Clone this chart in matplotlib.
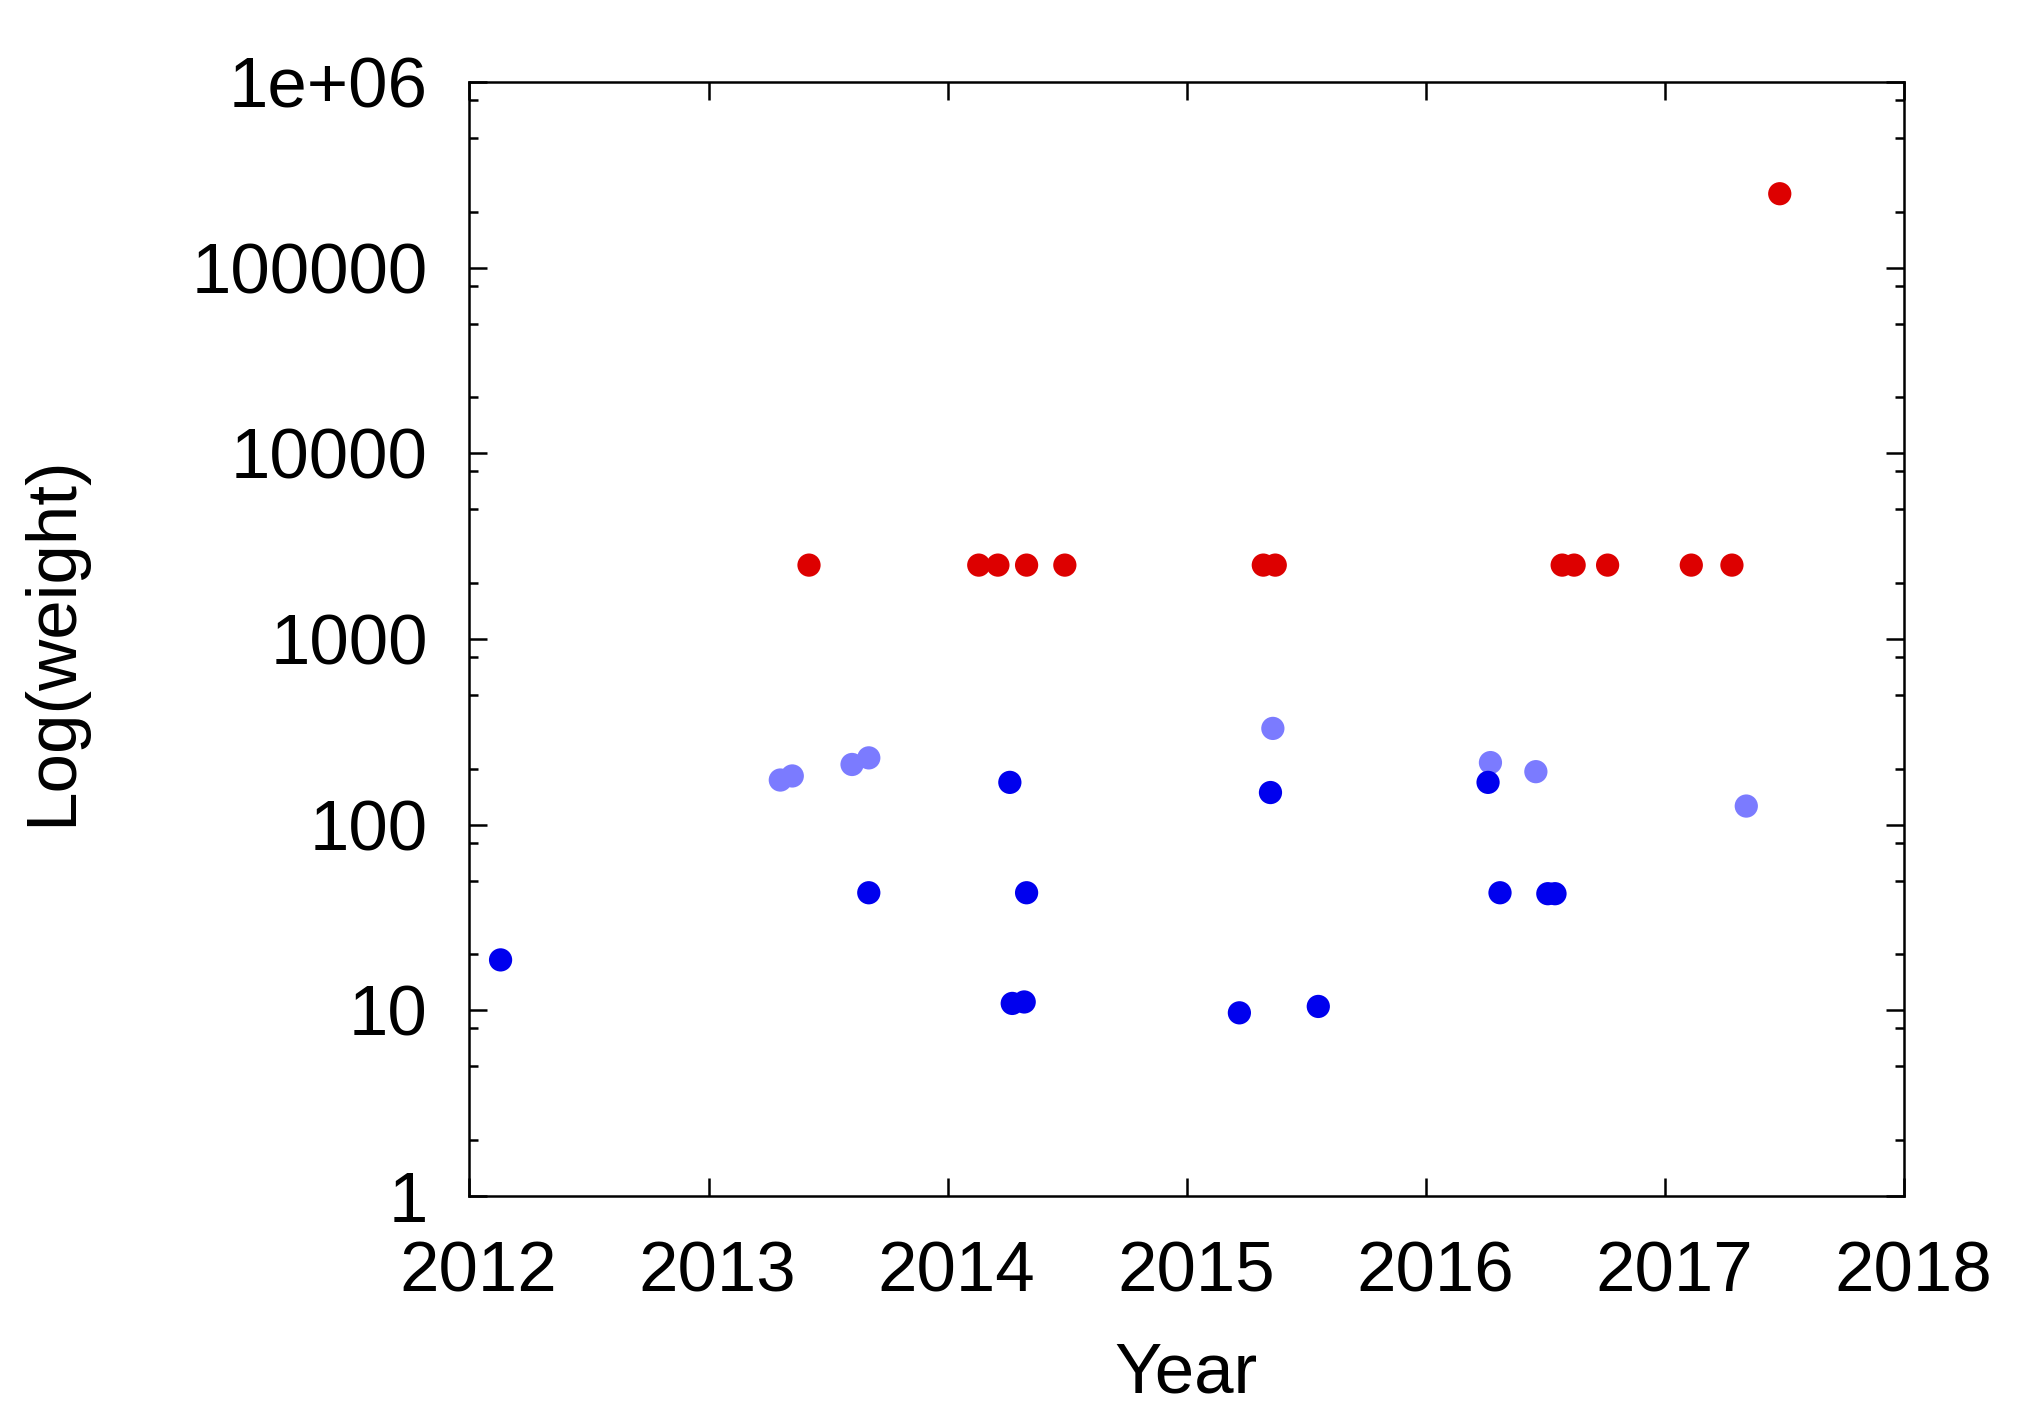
import matplotlib
matplotlib.use('Agg')
import matplotlib.pyplot as plt
import matplotlib.transforms as mtransforms
from matplotlib.ticker import LogLocator, FixedLocator, NullLocator

plt.rcParams['font.family'] = ['Liberation Sans', 'DejaVu Sans']

# dados
red_year = [2013.42, 2014.13, 2014.21, 2014.33, 2014.49, 2015.32, 2015.37,
            2016.57, 2016.62, 2016.76, 2017.11, 2017.28, 2017.48]
red_weight = [2500, 2500, 2500, 2500, 2500, 2500, 2500,
              2500, 2500, 2500, 2500, 2500, 250000]

light_year = [2013.30, 2013.35, 2013.60, 2013.67, 2015.36, 2016.27, 2016.46, 2017.34]
light_weight = [174, 183, 211, 229, 330, 216, 193, 126]

blue_year = [2012.13, 2013.67, 2014.26, 2014.27, 2014.32, 2014.33, 2015.22,
             2015.35, 2015.55, 2016.26, 2016.31, 2016.51, 2016.54]
blue_weight = [18.7, 43, 169, 10.9, 11.1, 43, 9.7,
               149, 10.5, 169, 43, 42.5, 42.5]

x_ticks = [2012, 2013, 2014, 2015, 2016, 2017, 2018]
y_ticks = [1, 10, 100, 1000, 10000, 100000, 1000000]
y_labels = ['1', '10', '100', '1000', '10000', '100000', '1e+06']

fig = plt.figure(figsize=(20.28, 14.2), dpi=100)
ax = fig.add_axes([0.2315, 0.1577, 0.7074, 0.7846])

ax.scatter(light_year, light_weight, s=280, color='#7b7bff', edgecolors='none', zorder=3)
ax.scatter(blue_year, blue_weight, s=280, color='#0000ee', edgecolors='none', zorder=4)
ax.scatter(red_year, red_weight, s=280, color='#dd0000', edgecolors='none', zorder=5)

ax.set_yscale('log')
ax.set_xlim(2012, 2018)
ax.set_ylim(1, 1e6)

ax.xaxis.set_major_locator(FixedLocator(x_ticks))
ax.set_xticklabels([str(t) for t in x_ticks])
ax.xaxis.set_minor_locator(NullLocator())
ax.yaxis.set_major_locator(FixedLocator(y_ticks))
ax.set_yticklabels(y_labels)
ax.yaxis.set_minor_locator(LogLocator(base=10, subs=[2, 5, 8], numticks=20))

ax.tick_params(which='both', direction='in', top=True, right=True, width=1.8, labelsize=51)
ax.tick_params(which='major', length=13)
ax.tick_params(which='minor', length=6.5)
ax.tick_params(axis='x', which='major', pad=32)
ax.tick_params(axis='y', which='major', pad=30)

# rótulos do eixo x ligeiramente deslocados para a direita, como no original
shift = mtransforms.ScaledTranslation(0.09, 0, fig.dpi_scale_trans)
for lbl in ax.get_xticklabels():
    lbl.set_transform(lbl.get_transform() + shift)

for s in ax.spines.values():
    s.set_linewidth(1.8)

fig.text(0.585, 0.032, 'Year', fontsize=51, ha='center', va='center')
fig.text(0.026, 0.549, 'Log(weight)', fontsize=51, ha='center', va='center', rotation=90)

fig.savefig('out.png', dpi=100)
